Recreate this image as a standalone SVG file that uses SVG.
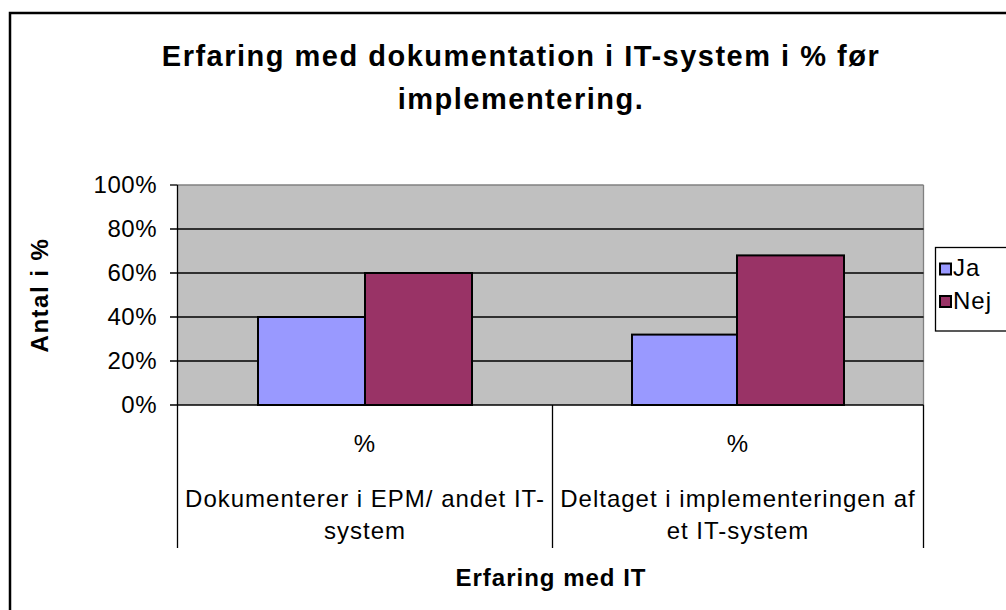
<svg xmlns="http://www.w3.org/2000/svg" width="1006" height="610" viewBox="0 0 1006 610">
<style>
text{font-family:"Liberation Sans",Arial,sans-serif;fill:#000}
.t{font-size:29px;font-weight:bold;text-anchor:middle;letter-spacing:1.5px}
.y{font-size:24px;text-anchor:end;letter-spacing:0.5px}
.c{font-size:24px;text-anchor:middle;letter-spacing:1px}
.b{font-size:24px;font-weight:bold;text-anchor:middle;letter-spacing:1px}
.l{font-size:24px;letter-spacing:1px}
.grid{stroke:#000;stroke-width:1.3}
.ja{fill:#9999FF;stroke:#000;stroke-width:2}
.nej{fill:#993366;stroke:#000;stroke-width:2}
</style>
<rect x="0" y="0" width="1006" height="610" fill="#fff"/>
<rect x="10" y="13" width="1010" height="610" fill="#fff" stroke="#000" stroke-width="2.5"/>
<g id="title">
<text class="t" x="521" y="66">Erfaring med dokumentation i IT-system i % før</text>
<text class="t" x="521" y="109">implementering.</text>
</g>
<g id="plot">
<rect x="177.5" y="185" width="746" height="220" fill="#C0C0C0"/>
<line x1="177.5" y1="185" x2="923.5" y2="185" stroke="#808080" stroke-width="1.3"/>
<line x1="923.5" y1="185" x2="923.5" y2="405" stroke="#808080" stroke-width="1.3"/>
<g class="grid">
<line x1="170" y1="229" x2="923.5" y2="229"/>
<line x1="170" y1="273" x2="923.5" y2="273"/>
<line x1="170" y1="317" x2="923.5" y2="317"/>
<line x1="170" y1="361" x2="923.5" y2="361"/>
<line x1="170" y1="185" x2="177.5" y2="185"/>
</g>
</g>
<g id="bars">
<rect class="ja" x="258" y="317" width="107" height="88"/>
<rect class="nej" x="365" y="273" width="107" height="132"/>
<rect class="ja" x="632" y="334.6" width="105" height="70.4"/>
<rect class="nej" x="737" y="255.4" width="107" height="149.6"/>
</g>
<g id="axes" stroke="#000" stroke-width="1.3">
<line x1="177.5" y1="185" x2="177.5" y2="548"/>
<line x1="170" y1="405" x2="923.5" y2="405"/>
<line x1="552.5" y1="405" x2="552.5" y2="548"/>
<line x1="923.5" y1="405" x2="923.5" y2="548"/>
</g>
<g id="yaxis">
<text class="y" x="157" y="193">100%</text>
<text class="y" x="157" y="237">80%</text>
<text class="y" x="157" y="281">60%</text>
<text class="y" x="157" y="325">40%</text>
<text class="y" x="157" y="369">20%</text>
<text class="y" x="157" y="413">0%</text>
<text class="b" transform="translate(48,295) rotate(-90)" style="letter-spacing:1.5px">Antal i %</text>
</g>
<g id="xaxis">
<text class="c" x="365" y="452">%</text>
<text class="c" x="365" y="507">Dokumenterer i EPM/ andet IT-</text>
<text class="c" x="365" y="539">system</text>
<text class="c" x="738" y="452">%</text>
<text class="c" x="738" y="507">Deltaget i implementeringen af</text>
<text class="c" x="738" y="539">et IT-system</text>
<text class="b" x="551" y="586">Erfaring med IT</text>
</g>
<g id="legend">
<rect x="935.5" y="247.5" width="80" height="83.5" fill="#fff" stroke="#000" stroke-width="1.3"/>
<rect class="ja" x="940" y="263.5" width="11" height="11" stroke-width="1.5"/>
<rect class="nej" x="940" y="296" width="11" height="11" stroke-width="1.5"/>
<text class="l" x="953" y="276">Ja</text>
<text class="l" x="953" y="309">Nej</text>
</g>
</svg>
